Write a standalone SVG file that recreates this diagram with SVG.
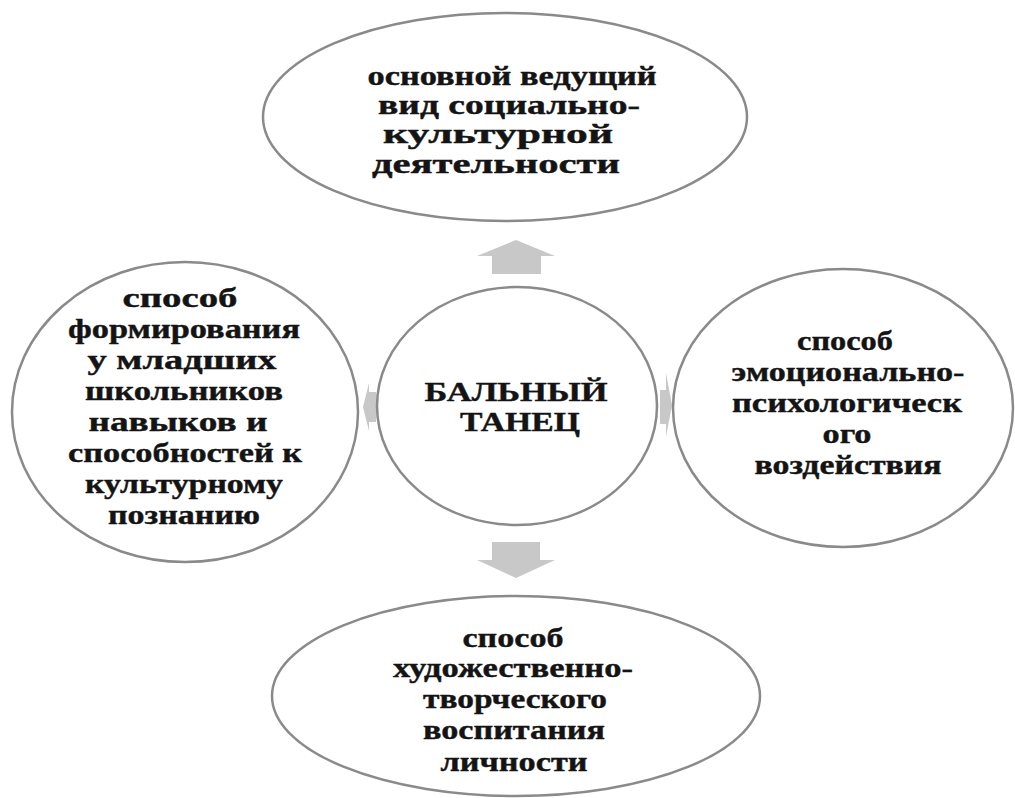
<svg xmlns="http://www.w3.org/2000/svg" width="1015" height="798" viewBox="0 0 1015 798">
<style>
.node ellipse{fill:#ffffff;stroke:#8a8a8a;stroke-width:2.5}
.node text{font-family:"Liberation Serif","Times New Roman",serif;font-weight:bold;font-size:27px;fill:#141414;text-anchor:middle;stroke:#141414;stroke-width:0.4}
.arr{fill:#c8c8c8;stroke:none}
</style>
<rect width="1015" height="798" fill="#ffffff"/>
<g id="connectors">
<path class="arr" d="M492,274 L492,256 L477,256 L516,240 L555,256 L541,256 L541,274 Z"/>
<path class="arr" d="M492,542 L540,542 L540,560 L555,560 L516,578 L477,560 L492,560 Z"/>
<path class="arr" d="M376,392 L376,422 L369,422 L369,431 L363,407 L369,383 L369,392 Z"/>
<path class="arr" d="M660,390 L660,424 L666,424 L666,437 L672,405 L666,373 L666,390 Z"/>
</g>
<g id="node-top" class="node">
<ellipse cx="505" cy="117" rx="242" ry="104"/>
<text x="512" y="85" textLength="289" lengthAdjust="spacingAndGlyphs">основной ведущий</text>
<text x="509" y="114" textLength="262" lengthAdjust="spacingAndGlyphs">вид социально-</text>
<text x="498" y="143" textLength="230" lengthAdjust="spacingAndGlyphs">культурной</text>
<text x="496" y="173" textLength="248" lengthAdjust="spacingAndGlyphs">деятельности</text>
</g>
<g id="node-center" class="node">
<ellipse cx="517" cy="406" rx="140" ry="119"/>
<text x="516" y="401" textLength="183" lengthAdjust="spacingAndGlyphs">БАЛЬНЫЙ</text>
<text x="520" y="431" textLength="120" lengthAdjust="spacingAndGlyphs">ТАНЕЦ</text>
</g>
<g id="node-left" class="node">
<ellipse cx="185" cy="412" rx="173" ry="150"/>
<text x="180" y="307" textLength="115" lengthAdjust="spacingAndGlyphs">способ</text>
<text x="184" y="338" textLength="232" lengthAdjust="spacingAndGlyphs">формирования</text>
<text x="182" y="369" textLength="189" lengthAdjust="spacingAndGlyphs">у младших</text>
<text x="184" y="400" textLength="198" lengthAdjust="spacingAndGlyphs">школьников</text>
<text x="178" y="431" textLength="179" lengthAdjust="spacingAndGlyphs">навыков и</text>
<text x="185" y="462" textLength="234" lengthAdjust="spacingAndGlyphs">способностей к</text>
<text x="184" y="493" textLength="198" lengthAdjust="spacingAndGlyphs">культурному</text>
<text x="184" y="524" textLength="152" lengthAdjust="spacingAndGlyphs">познанию</text>
</g>
<g id="node-right" class="node">
<ellipse cx="843" cy="408" rx="170" ry="139"/>
<text x="845" y="350" textLength="96" lengthAdjust="spacingAndGlyphs">способ</text>
<text x="848" y="381" textLength="233" lengthAdjust="spacingAndGlyphs">эмоционально-</text>
<text x="847" y="412" textLength="230" lengthAdjust="spacingAndGlyphs">психологическ</text>
<text x="847" y="443" textLength="49" lengthAdjust="spacingAndGlyphs">ого</text>
<text x="848" y="474" textLength="187" lengthAdjust="spacingAndGlyphs">воздействия</text>
</g>
<g id="node-bottom" class="node">
<ellipse cx="516" cy="696" rx="244" ry="100"/>
<text x="513" y="647" textLength="101" lengthAdjust="spacingAndGlyphs">способ</text>
<text x="513" y="677" textLength="240" lengthAdjust="spacingAndGlyphs">художественно-</text>
<text x="515" y="708" textLength="184" lengthAdjust="spacingAndGlyphs">творческого</text>
<text x="514" y="739" textLength="182" lengthAdjust="spacingAndGlyphs">воспитания</text>
<text x="514" y="771" textLength="147" lengthAdjust="spacingAndGlyphs">личности</text>
</g>
</svg>
